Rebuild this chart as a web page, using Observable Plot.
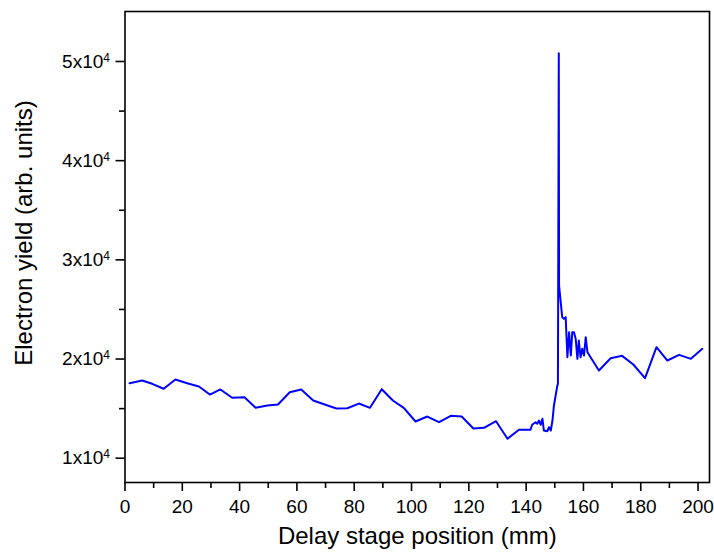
<!DOCTYPE html>
<html><head><meta charset="utf-8">
<script src="https://cdn.jsdelivr.net/npm/d3@7"></script>
<script src="https://cdn.jsdelivr.net/npm/@observablehq/plot@0.6"></script>
<style>html,body{margin:0;padding:0;background:#fff;} svg{display:block}</style>
</head><body><div id="chart"></div>
<script>
const positions = [1.6, 6.0, 9.5, 13.5, 17.6, 21.7, 25.8, 29.6, 33.3, 37.4, 41.7, 45.6, 49.7, 53.4, 57.5, 61.5, 65.7, 69.7, 73.8, 77.6, 81.6, 85.5, 89.6, 93.6, 97.3, 101.4, 105.5, 109.6, 113.7, 117.5, 121.6, 125.3, 129.5, 133.5, 137.5, 141.5, 142.1, 143.3, 143.9, 144.5, 145.1, 145.7, 146.2, 147.4, 148.0, 148.6, 149.2, 149.7, 150.3, 150.9, 151.1, 151.4, 151.5, 152.6, 153.2, 153.8, 154.4, 155.0, 155.6, 156.1, 156.7, 157.3, 157.9, 158.4, 159.0, 159.6, 160.2, 160.8, 161.4, 165.4, 169.5, 173.5, 177.4, 181.5, 185.5, 189.3, 193.4, 197.5, 201.5];
const yields = [17560, 17830, 17500, 17000, 17930, 17560, 17230, 16420, 16930, 16090, 16150, 15080, 15310, 15410, 16650, 16930, 15820, 15410, 15010, 15040, 15510, 15080, 16960, 15790, 15080, 13700, 14200, 13630, 14270, 14200, 12990, 13060, 13730, 11960, 12860, 12860, 13370, 13630, 13470, 13800, 13370, 13970, 12790, 12720, 13120, 12790, 13800, 15310, 16320, 17330, 17500, 50830, 27410, 24210, 24050, 24210, 20180, 22700, 20350, 22700, 22700, 22030, 20020, 21860, 20180, 21030, 20350, 22200, 20690, 18840, 20080, 20320, 19450, 18070, 21190, 19850, 20420, 20020, 21030];
const xMajorTicks = [0, 20, 40, 60, 80, 100, 120, 140, 160, 180, 200];
const xMinorTicks = [10, 30, 50, 70, 90, 110, 130, 150, 170, 190];
const yMajorTicks = [10000, 20000, 30000, 40000, 50000];
const yMinorTicks = [15000, 25000, 35000, 45000];
const xTitle = "Delay stage position (mm)";
const yTitle = "Electron yield (arb. units)";

const data = positions.map((x, i) => ({x, y: yields[i]}));
const font = "'Liberation Sans', Arial, sans-serif";

const chart = Plot.plot({
  width: 714, height: 556,
  marginLeft: 124.5, marginRight: 5, marginTop: 11, marginBottom: 74,
  style: {fontFamily: font, fontSize: "19px", color: "black", background: "white"},
  x: {domain: [0, 204], axis: null, label: null},
  y: {domain: [7550, 55040], axis: null, label: null},
  marks: [
    Plot.axisX(xMinorTicks, {tickSize: 6, tickFormat: () => "", strokeWidth: 1.6, label: null}),
    Plot.axisX(xMajorTicks, {tickSize: 9, tickPadding: 8, strokeWidth: 1.6, label: null, fontSize: 19}),
    Plot.axisY(yMinorTicks, {tickSize: 5.5, tickFormat: () => "", strokeWidth: 1.6, label: null}),
    Plot.axisY(yMajorTicks, {tickSize: 9, tickPadding: 6, strokeWidth: 1.6, label: null, fontSize: 19,
      tickFormat: d => `${d / 1e4}x10^4`}),
    Plot.line(data, {x: "x", y: "y", stroke: "#0000ff", strokeWidth: 2}),
    Plot.frame({stroke: "black", strokeWidth: 1.6}),
    Plot.text([yTitle], {text: d => d, frameAnchor: "left", rotate: -90, dx: -100.7, dy: -14, fontSize: 24, textAnchor: "middle"}),
    Plot.text([xTitle], {text: d => d, frameAnchor: "bottom", dy: 61, fontSize: 24})
  ]
});

chart.querySelectorAll('g[aria-label="y-axis tick label"] text').forEach(t => {
  const parts = t.textContent.split("^");
  if (parts.length < 2) return;
  t.textContent = parts[0];
  const ts = document.createElementNS("http://www.w3.org/2000/svg", "tspan");
  ts.setAttribute("dy", "-6");
  ts.setAttribute("font-size", "12");
  ts.textContent = parts[1];
  t.appendChild(ts);
});

document.getElementById("chart").appendChild(chart);
</script>
</body></html>
